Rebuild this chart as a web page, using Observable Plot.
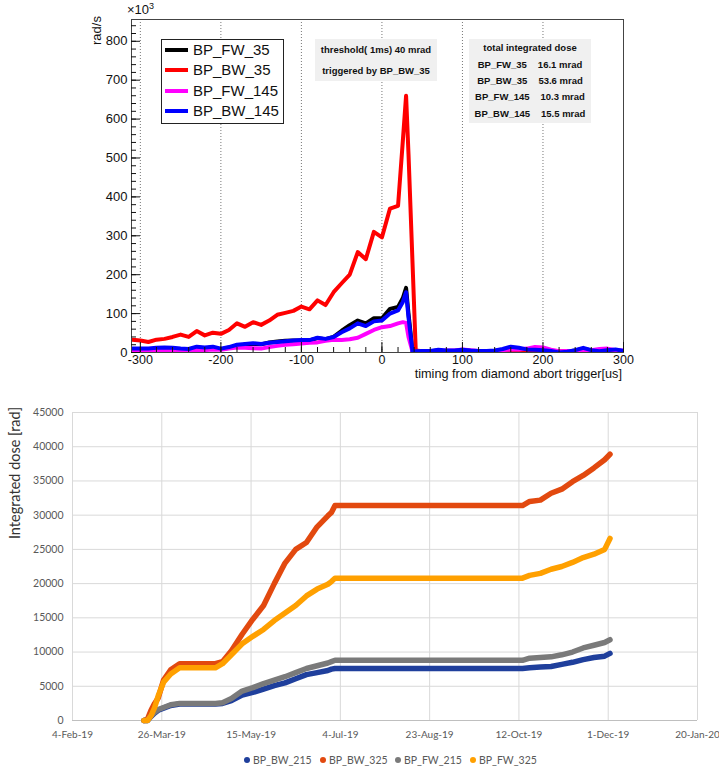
<!DOCTYPE html>
<html><head><meta charset="utf-8">
<script src="https://cdn.jsdelivr.net/npm/d3@7"></script>
<script src="https://cdn.jsdelivr.net/npm/@observablehq/plot@0.6"></script>
<style>
body{margin:0;background:#fff;}
#wrap{position:relative;width:719px;height:768px;overflow:hidden;font-family:"Liberation Sans",Arial,sans-serif;}
#top,#bot{position:absolute;left:0;}
#top{top:0}
#bot{top:382px}
.abs{position:absolute;white-space:pre;}
.box{position:absolute;background:#f0f0f0;font-weight:bold;font-size:9.5px;color:#111;}
.row{position:absolute;left:0;right:0;text-align:center;line-height:12px;}
</style></head><body>
<div id="wrap"><div id="top"></div><div id="bot"></div></div>
<script>
// ---------- top chart data ----------
const timing = [-310,-300,-290,-280,-270,-260,-250,-240,-230,-220,-210,-200,-190,-180,-170,-160,-150,-140,-130,-120,-110,-100,-90,-80,-70,-60,-50,-40,-30,-20,-10,0,10,20,26,30,33,38,42,50,60,70,80,90,100,110,120,130,140,150,160,170,180,190,200,210,220,230,240,250,260,270,280,290,300];
const bpFw35 = [8,8,8,10,11,10,8,7,13,11,13,8,12,18,20,22,21,26,28,30,31,31,31,37,34,40,56,70,82,75,88,88,112,117,140,166,100,3,3,3,3,5,3,3,5,3,3,3,3,7,12,10,6,5,4,3,0,2,5,10,5,2,5,6,3];
const bpBw35 = [33,31,27,33,35,40,46,40,55,44,51,48,58,75,66,78,71,82,97,102,107,118,111,134,122,155,178,200,258,240,310,296,370,377,545,660,510,230,5,3,3,3,3,3,3,3,3,3,3,3,3,3,3,3,3,3,3,3,3,3,3,3,3,3,3];
const bpFw145 = [5,5,3,4,5,5,6,6,7,6,8,7,10,13,12,11,10,14,17,20,21,23,25,26,30,33,32,34,38,48,58,65,68,75,78,76,40,2,2,3,3,4,5,5,8,6,4,4,4,6,8,8,10,14,13,7,3,4,4,5,6,9,10,6,5];
const bpBw145 = [10,10,10,12,13,12,10,9,15,13,15,10,14,20,22,24,22,25,27,29,31,32,32,38,35,40,52,62,75,68,80,82,100,108,130,155,90,2,3,4,4,7,5,5,7,5,4,4,5,9,15,12,8,7,6,4,0,2,6,12,6,3,6,8,4];
const topSeries = [
  {name:"BP_FW_35", values:bpFw35, color:"#000000"},
  {name:"BP_BW_35", values:bpBw35, color:"#ff0000"},
  {name:"BP_FW_145", values:bpFw145, color:"#ff00ff"},
  {name:"BP_BW_145", values:bpBw145, color:"#0000ff"}
];
const xTicks = [-300,-200,-100,0,100,200,300];
const yTicks = [0,100,200,300,400,500,600,700,800];
const totalDose = [["BP_FW_35","16.1 mrad"],["BP_BW_35","53.6 mrad"],["BP_FW_145","10.3 mrad"],["BP_BW_145","15.5 mrad"]];

// ---------- bottom chart data ----------
const doseDates = ["2019-03-16","2019-03-18","2019-03-20","2019-03-22","2019-03-24","2019-03-27","2019-03-31","2019-04-05","2019-04-25","2019-04-29","2019-05-04","2019-05-10","2019-05-16","2019-05-22","2019-05-28","2019-06-03","2019-06-09","2019-06-15","2019-06-21","2019-06-27","2019-06-29","2019-07-01","2019-10-14","2019-10-18","2019-10-24","2019-10-30","2019-11-05","2019-11-11","2019-11-17","2019-11-23","2019-11-29","2019-12-02"];
const bpBw215 = [0,0,600,1100,1500,1800,2200,2400,2400,2500,2900,3700,4100,4600,5100,5500,6100,6700,7000,7300,7500,7600,7600,7700,7800,7900,8200,8500,8900,9200,9400,9800];
const bpBw325 = [0,200,1500,2500,3300,5900,7400,8300,8300,8600,10200,12600,14800,16800,20000,23000,25000,26000,28300,29900,30400,31400,31400,32000,32200,33200,33800,34900,35800,36900,38100,38900];
const bpFw215 = [0,0,700,1200,1600,1900,2300,2500,2500,2600,3200,4300,4800,5400,5900,6400,7000,7600,8000,8400,8600,8800,8800,9100,9200,9300,9600,10000,10600,11000,11400,11800];
const bpFw325 = [0,0,700,1900,3600,5600,6800,7700,7700,8300,9600,11200,12300,13300,14600,15700,16800,18200,19200,19900,20300,20800,20800,21200,21500,22100,22500,23100,23800,24300,25000,26600];
const botSeries = [
  {name:"BP_BW_215", values:bpBw215, color:"#1f3f9c"},
  {name:"BP_BW_325", values:bpBw325, color:"#e2490f"},
  {name:"BP_FW_215", values:bpFw215, color:"#7a7a7a"},
  {name:"BP_FW_325", values:bpFw325, color:"#ffa000"}
];
const dateTickLabels = ["2019-02-04","2019-03-26","2019-05-15","2019-07-04","2019-08-23","2019-10-12","2019-12-01","2020-01-20"];
const doseTicks = [0,5000,10000,15000,20000,25000,30000,35000,40000,45000];

// ---------- top chart ----------
const topRows = topSeries.map(s => timing.map((t,i) => ({t, v:s.values[i]})));
const topPlot = Plot.plot({
  width:719, height:382,
  marginLeft:131, marginRight:96, marginTop:19, marginBottom:30,
  style:{fontFamily:"'Liberation Sans',Arial,sans-serif", fontSize:"13px", color:"#111", background:"transparent"},
  x:{domain:[-311,300]},
  y:{domain:[0,856]},
  marks:[
    Plot.ruleX(xTicks, {stroke:"#777", strokeDasharray:"1,2", strokeWidth:1}),
    ...topSeries.map((s,k) => Plot.line(topRows[k], {x:"t", y:"v", stroke:s.color, strokeWidth:4, clip:true})),
    Plot.frame({stroke:"#444"}),
    Plot.axisY(d3.range(0,860,20), {tickSize:-5, tickFormat:()=>"", label:null}),
    Plot.axisY(yTicks, {tickSize:-9, tickPadding:13, fontSize:13, label:null}),
    Plot.axisX(d3.range(-300,301,20), {tickSize:-5, tickFormat:()=>"", label:null}),
    Plot.axisX(xTicks, {tickSize:-10, tickPadding:13, fontSize:12.5, tickFormat:d=>String(d), label:null})
  ]
});
document.getElementById("top").appendChild(topPlot);

// ---------- bottom chart ----------
const fmtMonth = ["Jan","Feb","Mar","Apr","May","Jun","Jul","Aug","Sep","Oct","Nov","Dec"];
const fmtDate = d => `${d.getUTCDate()}-${fmtMonth[d.getUTCMonth()]}-${String(d.getUTCFullYear()).slice(2)}`;
const dateTicks = dateTickLabels.map(s => new Date(s));
const botRows = botSeries.map(s => doseDates.map((d,i) => ({date:new Date(d), v:s.values[i]})));
const botPlot = Plot.plot({
  width:719, height:386,
  marginLeft:72, marginRight:22, marginTop:30, marginBottom:48,
  style:{fontFamily:"Lato,'Open Sans',sans-serif", fontSize:"10.5px", color:"#595959", background:"transparent"},
  x:{type:"utc", domain:[dateTicks[0], dateTicks[dateTicks.length-1]]},
  y:{domain:[0,45000]},
  marks:[
    Plot.gridX(dateTicks, {stroke:"#d9d9d9", strokeOpacity:1, strokeWidth:1}),
    Plot.gridY(doseTicks, {stroke:"#d9d9d9", strokeOpacity:1, strokeWidth:1}),
    Plot.ruleY([0], {stroke:"#bfbfbf"}),
    ...botSeries.map((s,k) => Plot.line(botRows[k], {x:"date", y:"v", stroke:s.color, strokeWidth:5.5, strokeLinecap:"round", strokeLinejoin:"round"})),
    Plot.axisY(doseTicks, {tickSize:0, tickPadding:9, tickFormat:d=>String(d), label:null}),
    Plot.axisX(dateTicks, {tickSize:0, tickPadding:10, fontSize:10, tickFormat:fmtDate, label:null})
  ]
});
document.getElementById("bot").appendChild(botPlot);

// ---------- annotations ----------
const wrap = document.getElementById("wrap");
function add(html){ wrap.insertAdjacentHTML("beforeend", html); }
add(`<div class="abs" style="left:127px;top:1px;font-size:13px;color:#111;">×10<sup style="font-size:9px">3</sup></div>`);
add(`<div class="abs" style="left:89px;top:14px;font-size:13px;color:#111;transform-origin:0 0;transform:rotate(-90deg) translate(-31px,0);">rad/s</div>`);
add(`<div class="abs" style="right:${719-622}px;top:368px;font-size:12.7px;line-height:13px;color:#111;">timing from diamond abort trigger[us]</div>`);
// legend
let leg = `<div class="abs" style="left:161px;top:39px;width:121px;height:83px;border:1.5px solid #222;background:#fff;">`;
topSeries.forEach((s,i) => {
  const cy = [10,30,51,71][i];
  leg += `<div class="abs" style="left:3px;top:${cy-2}px;width:23px;height:4px;background:${s.color}"></div>`;
  leg += `<div class="abs" style="left:31px;top:${cy-9}px;font-size:15px;line-height:18px;color:#111">${s.name}</div>`;
});
leg += `</div>`;
add(leg);
add(`<div class="box" style="left:315px;top:39px;width:122px;height:42px;"><div class="row" style="top:5px">threshold( 1ms) 40 mrad</div><div class="row" style="top:26px">triggered by BP_BW_35</div></div>`);
let tb = `<div class="box" style="left:469px;top:39px;width:122px;height:84px;"><div class="row" style="top:3px">total integrated dose</div>`;
totalDose.forEach((r,i) => {
  tb += `<div class="row" style="top:${[20,36,52,69][i]}px;display:flex;justify-content:center;gap:11px"><span>${r[0]}</span><span>${r[1]}</span></div>`;
});
tb += `</div>`;
add(tb);
// bottom y label
add(`<div class="abs" style="left:15px;top:473px;font-family:Lato,sans-serif;font-size:14.5px;line-height:16px;color:#333;transform:translate(-50%,-50%) rotate(-90deg);">Integrated dose [rad]</div>`);
// bottom legend
const legX = [247,323,398,473];
botSeries.forEach((s,i) => {
  add(`<div class="abs" style="left:${legX[i]-3}px;top:757px;width:6px;height:6px;border-radius:50%;background:${s.color}"></div>`);
  add(`<div class="abs" style="left:${legX[i]+6}px;top:753px;font-family:Lato,sans-serif;font-size:10.5px;color:#595959;line-height:14px">${s.name}</div>`);
});
</script>
</body></html>
